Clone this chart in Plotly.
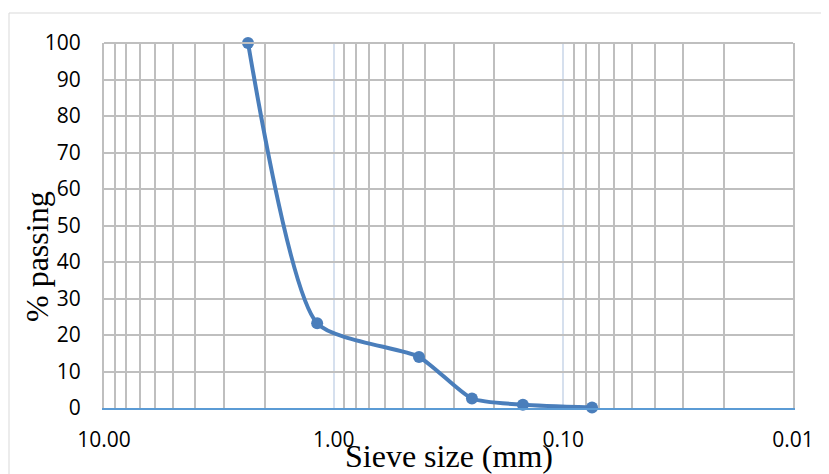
import plotly.graph_objects as go

# Data
sieve_mm = [2.36, 1.18, 0.425, 0.25, 0.15, 0.075]
pct_passing = [100, 23.2, 14, 2.6, 0.9, 0.15]

x_tickvals = [10, 1, 0.1, 0.01]
x_ticktext = ["10.00", "1.00", "0.10", "0.01"]
minor_vals = [m * d for d in (1, 0.1, 0.01) for m in range(2, 10)]

OFF = 8  # page body margin
W, H = 829 - OFF, 474 - OFF
L, R, T, B = 104 - OFF, 36, 43 - OFF, 66
pw, ph = W - L - R, H - T - B


def px(xp):  # page x pixel -> paper x
    return (xp - OFF - L) / pw


def py(yp):  # page y pixel -> paper y
    return (H - B - (yp - OFF)) / ph


fig = go.Figure()
fig.add_trace(go.Scatter(
    x=sieve_mm, y=pct_passing, mode="lines+markers",
    line=dict(color="#4A7EBB", width=4, shape="spline", smoothing=0.6),
    marker=dict(color="#4A7EBB", size=12),
    cliponaxis=False, showlegend=False,
))

tick_font = dict(family="Open Sans", size=21, color="#000000")

fig.update_layout(
    width=W, height=H,
    margin=dict(l=L, r=R, t=T, b=B, pad=0),
    paper_bgcolor="white", plot_bgcolor="white",
    xaxis=dict(
        type="log", range=[1, -2], autorange=False,
        tickmode="array", tickvals=x_tickvals, ticktext=x_ticktext,
        showgrid=True, gridcolor="#D6E0EE", gridwidth=2,
        minor=dict(tickmode="array", tickvals=minor_vals, showgrid=True,
                   gridcolor="#BFBFBF", gridwidth=2, ticks=""),
        showline=True, linecolor="#5B9BD5", linewidth=2,
        ticks="", tickfont=tick_font, ticklabelstandoff=12,
        zeroline=False,
    ),
    yaxis=dict(
        range=[0, 100], autorange=False, dtick=10, tick0=0,
        showgrid=True, gridcolor="#BFBFBF", gridwidth=2,
        showline=True, linecolor="#BFBFBF", linewidth=2, mirror=True,
        ticks="", tickfont=tick_font, ticklabelstandoff=17,
        zeroline=False,
    ),
    shapes=[
        dict(type="line", xref="paper", yref="paper", x0=0, x1=1, y0=1, y1=1,
             line=dict(color="#BFBFBF", width=2), layer="above"),
        dict(type="rect", xref="paper", yref="paper",
             x0=px(9), x1=px(828), y0=py(490), y1=py(13),
             line=dict(color="#D9D9D9", width=1), layer="below"),
    ],
    annotations=[
        dict(text="Sieve size (mm)", xref="paper", yref="paper",
             x=px(449), y=py(456), showarrow=False,
             font=dict(family="Liberation Serif", size=32, color="#000000"),
             xanchor="center", yanchor="middle"),
        dict(text="% passing", xref="paper", yref="paper",
             x=px(37), y=py(257), showarrow=False, textangle=-90,
             font=dict(family="Liberation Serif", size=32, color="#000000"),
             xanchor="center", yanchor="middle"),
    ],
)

fig.write_html("out.html")
